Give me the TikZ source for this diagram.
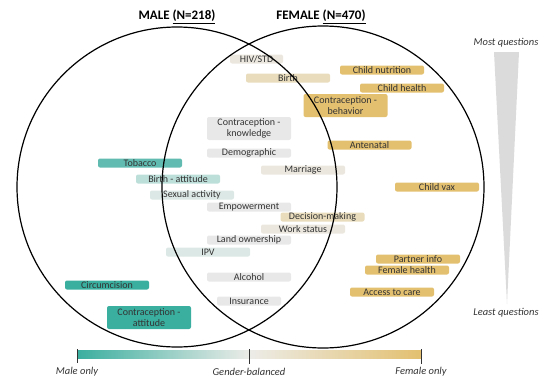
\documentclass[tikz,border=0pt]{standalone}
\usepackage{fontspec}
\setmainfont{Carlito}
\usepackage{xcolor}
\usetikzlibrary{shapes.geometric}

\definecolor{cMale}{HTML}{3AAE9F}
\definecolor{cMaleHi}{HTML}{62BBB0}
\definecolor{cMaleMid}{HTML}{BDDFDA}
\definecolor{cMaleLo}{HTML}{DCE8E5}
\definecolor{cEven}{HTML}{E8E8E8}
\definecolor{cFemLo}{HTML}{EBE7DF}
\definecolor{cFemMid}{HTML}{E8DCBC}
\definecolor{cFem}{HTML}{E3C070}
\definecolor{cBarMid}{HTML}{ECECE8}

\tikzset{
  topic/.style={rounded corners=2pt,minimum width=84pt,minimum height=9pt,
    inner sep=0pt,font=\fontsize{10}{11}\selectfont,text=black!80},
  topic2/.style={topic,align=center,minimum height=23pt},
  ends/.style={font=\fontsize{10.5}{12}\selectfont\itshape,text=black!80},
  title/.style={font=\fontsize{13}{15}\selectfont\bfseries},
}

\begin{document}
\begin{tikzpicture}[x=1pt,y=-1pt]
  \useasboundingbox (0,0) rectangle (544,380);

  % topics, from top to bottom
  \node[topic,fill=cFemLo,minimum width=53pt] (hiv) at (256.5,59) {HIV/STD};
  \node[topic,fill=cFem] (nutr) at (382,70) {Child nutrition};
  \node[topic,fill=cFemMid] (birth) at (288,78) {Birth};
  \node[topic,fill=cFem] (chealth) at (402,88) {Child health};
  \node[topic2,fill=cFem] (cbeh) at (345.5,105.5) {Contraception -\\behavior};
  \node[topic2,fill=cEven] (cknow) at (249,128.5) {Contraception -\\knowledge};
  \node[topic,fill=cFem] (antenatal) at (369.5,145) {Antenatal};
  \node[topic,fill=cEven] (demo) at (249,153) {Demographic};
  \node[topic,fill=cMaleHi] (tobacco) at (140,163) {Tobacco};
  \node[topic,fill=cFemLo] (marriage) at (303,170) {Marriage};
  \node[topic,fill=cMaleMid] (battit) at (178,179) {Birth - attitude};
  \node[topic,fill=cFem] (vax) at (437,187) {Child vax};
  \node[topic,fill=cMaleLo] (sex) at (192,195) {Sexual activity};
  \node[topic,fill=cEven] (empower) at (249,207) {Empowerment};
  \node[topic,fill=cFemMid] (decision) at (322.5,217) {Decision-making};
  \node[topic,fill=cFemLo] (work) at (303,229) {Work status};
  \node[topic,fill=cEven] (land) at (249,240) {Land ownership};
  \node[topic,fill=cMaleLo] (ipv) at (208,252) {IPV};
  \node[topic,fill=cFem] (partner) at (418,259) {Partner info};
  \node[topic,fill=cFem] (fhealth) at (407,270) {Female health};
  \node[topic,fill=cEven] (alcohol) at (249,277) {Alcohol};
  \node[topic,fill=cMale] (circ) at (107,285) {Circumcision};
  \node[topic,fill=cFem] (access) at (392,292) {Access to care};
  \node[topic,fill=cEven,minimum width=64pt] (insur) at (249,301) {Insurance};
  \node[topic2,fill=cMale] (catt) at (149,317.5) {Contraception -\\attitude};

  % the two groups
  \node[circle,draw,line width=1.2pt,minimum size=320pt,inner sep=0pt] (male) at (177,187) {};
  \node[circle,draw,line width=1.2pt,minimum size=322pt,inner sep=0pt] (female) at (323,187) {};
  \node[title] (maletitle) at (177,17) {MALE \underline{(N=218)}};
  \node[title] (femtitle) at (321,17) {FEMALE \underline{(N=470)}};

  % colour scale
  \shade[left color=cMale,right color=cBarMid] (77,350) rectangle (249,358);
  \shade[left color=cBarMid,right color=cFem] (249,350) rectangle (421,358);
  \coordinate (tmale) at (77,349);
  \coordinate (teven) at (249,349);
  \coordinate (tfem) at (421,349);
  \draw[black!80] (tmale) -- ++(0,14);
  \draw[black!80] (teven) -- ++(0,15);
  \draw[black!80] (tfem) -- ++(0,15);
  \node[ends] (lmale) at (77,372) {Male only};
  \node[ends] (leven) at (249,372) {Gender-balanced};
  \node[ends] (lfem) at (421,372) {Female only};

  % question count wedge
  \fill[black!14] (494,52) -- (519,52) -- (507,304) -- cycle;
  \node[ends] (most) at (506,43) {Most questions};
  \node[ends] (least) at (506,313) {Least questions};
\end{tikzpicture}
\end{document}
